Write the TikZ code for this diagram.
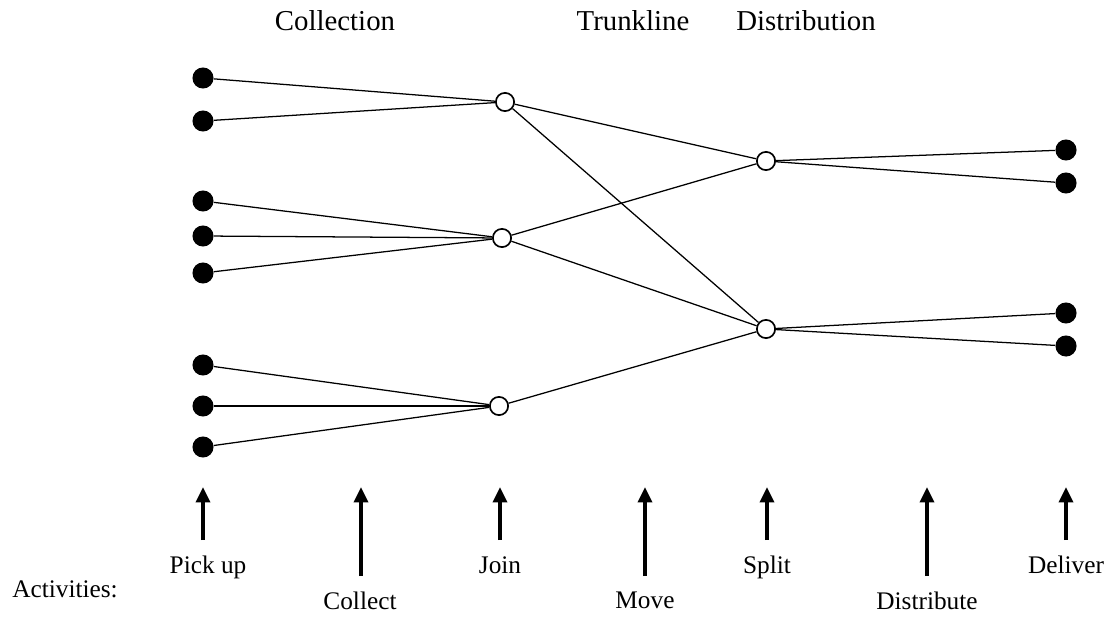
\documentclass[tikz,border=0pt]{standalone}
\usepackage{fontspec}
\setmainfont{Liberation Serif}
\usetikzlibrary{arrows.meta}
\tikzset{
  pick/.style={circle,fill=black,inner sep=0pt,minimum size=15pt},
  hub/.style={circle,draw=black,fill=white,line width=1.2pt,inner sep=0pt,minimum size=13pt},
  phase/.style={anchor=base,font=\fontsize{20.5}{24}\selectfont},
  act/.style={anchor=base,font=\fontsize{18}{22}\selectfont},
  actarrow/.style={line width=2.5pt,-{Triangle[length=11pt,width=10pt]}}
}
\begin{document}
\begin{tikzpicture}[x=0.025cm,y=-0.025cm]
      \useasboundingbox (0,0) rectangle (1105,617);
      \draw
        (335,31) node[phase] (collection){Collection}
        (633,31) node[phase] (trunkline){Trunkline}
        (806,31) node[phase] (distribution){Distribution};
      \draw
        (203,78) node[pick] (p1){}
        (203,121) node[pick] (p2){}
        (203,201) node[pick] (p3){}
        (203,236) node[pick] (p4){}
        (203,273) node[pick] (p5){}
        (203,365) node[pick] (p6){}
        (203,406) node[pick] (p7){}
        (203,447) node[pick] (p8){}
        (1066,150) node[pick] (d1){}
        (1066,183) node[pick] (d2){}
        (1066,313) node[pick] (d3){}
        (1066,346) node[pick] (d4){};
      \draw
        (505,102) node[hub] (j1){}
        (502,238) node[hub] (j2){}
        (499,406) node[hub] (j3){}
        (766,161) node[hub] (s1){}
        (766,329) node[hub] (s2){};
      \begin{scope}[-,line width=0.9pt]
        \draw (p1) to (j1);
        \draw (p2) to (j1);
        \draw (p3) to (j2);
        \draw (p4) to (j2);
        \draw (p5) to (j2);
        \draw (p6) to (j3);
        \draw (p7) to (j3);
        \draw (p8) to (j3);
        \draw (j1) to (s1);
        \draw (j1) to (s2);
        \draw (j2) to (s1);
        \draw (j2) to (s2);
        \draw (j3) to (s2);
        \draw (s1) to (d1);
        \draw (s1) to (d2);
        \draw (s2) to (d3);
        \draw (s2) to (d4);
      \end{scope}
      \draw
        (65,597) node[act] (activities){Activities:}
        (208,573) node[act] (pickup){Pick up}
        (360,609) node[act] (collect){Collect}
        (500,573) node[act] (join){Join}
        (645,608) node[act] (move){Move}
        (767,573) node[act] (split){Split}
        (927,609) node[act] (distribute){Distribute}
        (1066,573) node[act] (deliver){Deliver};
      \coordinate (t1) at (203,540);
      \coordinate (t2) at (361,576);
      \coordinate (t3) at (500,540);
      \coordinate (t4) at (645,576);
      \coordinate (t5) at (767,540);
      \coordinate (t6) at (927,576);
      \coordinate (t7) at (1066,540);
      \coordinate (a1) at (203,487);
      \coordinate (a2) at (361,487);
      \coordinate (a3) at (500,487);
      \coordinate (a4) at (645,487);
      \coordinate (a5) at (767,487);
      \coordinate (a6) at (927,487);
      \coordinate (a7) at (1066,487);
      \begin{scope}[actarrow]
        \draw (t1) to (a1);
        \draw (t2) to (a2);
        \draw (t3) to (a3);
        \draw (t4) to (a4);
        \draw (t5) to (a5);
        \draw (t6) to (a6);
        \draw (t7) to (a7);
      \end{scope}
    \end{tikzpicture}
\end{document}
